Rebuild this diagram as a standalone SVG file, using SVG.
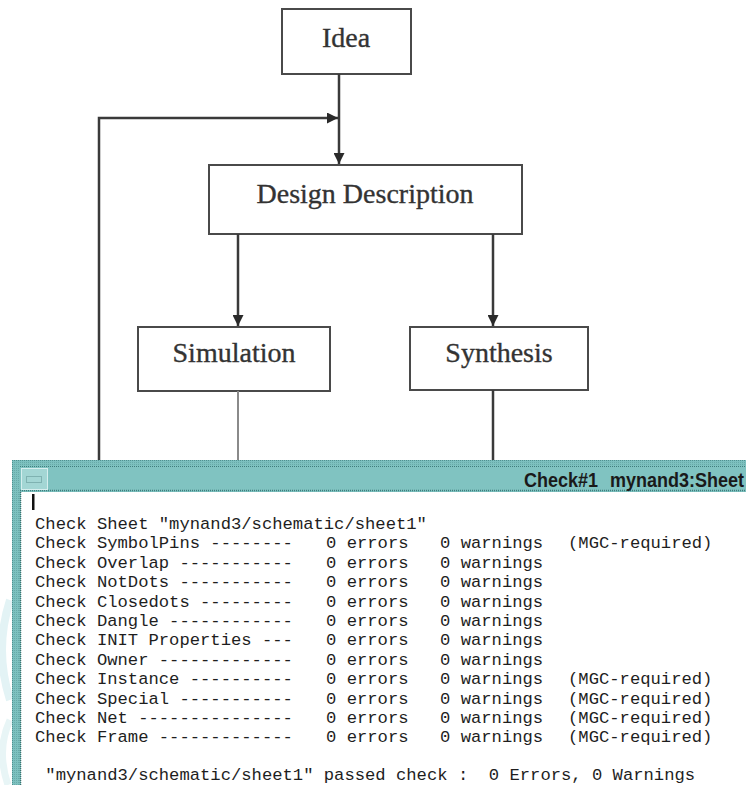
<svg xmlns="http://www.w3.org/2000/svg" width="746" height="785" viewBox="0 0 746 785">
  <style>
    .box { fill: #ffffff; stroke: #4a4a4a; stroke-width: 2; }
    .lbl { font-family: "Liberation Serif", "DejaVu Serif", serif; font-size: 28px; fill: #333333; stroke: #333333; stroke-width: 0.35; text-anchor: middle; }
    .wire { fill: none; stroke: #3a3a3a; stroke-width: 2.5; }
    .wire-lt { fill: none; stroke: #8a8a8a; stroke-width: 2; }
    .mono { font-family: "Liberation Mono", "DejaVu Sans Mono", monospace; font-size: 17.2px; fill: #1e1e1e; white-space: pre; }
    .title { font-family: "Liberation Sans", "Arial", sans-serif; font-weight: bold; font-size: 20px; fill: #1a1a1a; }
  </style>
  <defs>
    <marker id="arrow" viewBox="0 0 10 10" refX="10" refY="5" markerWidth="4.4" markerHeight="4.4" orient="auto" markerUnits="strokeWidth">
      <path d="M0,0 L10,5 L0,10 z" fill="#2a2a2a"/>
    </marker>
    <pattern id="dots" width="2" height="2" patternUnits="userSpaceOnUse">
      <rect width="2" height="2" fill="#7cc0bf"/>
      <rect width="1" height="1" fill="#4e8f8e"/>
    </pattern>
  </defs>

  <rect width="746" height="785" fill="#ffffff"/>

  <!-- flow chart nodes -->
  <g id="idea">
    <rect class="box" x="282" y="9" width="129" height="65"/>
    <text class="lbl" x="346" y="47">Idea</text>
  </g>
  <g id="design-description">
    <rect class="box" x="209" y="165" width="313" height="69"/>
    <text class="lbl" x="365" y="203">Design Description</text>
  </g>
  <g id="simulation">
    <rect class="box" x="138" y="327" width="192" height="64"/>
    <text class="lbl" x="234" y="362">Simulation</text>
  </g>
  <g id="synthesis">
    <rect class="box" x="410" y="327" width="178" height="63"/>
    <text class="lbl" x="499" y="362">Synthesis</text>
  </g>

  <!-- connectors -->
  <g id="connectors">
    <line class="wire" x1="339" y1="74" x2="339" y2="164" marker-end="url(#arrow)"/>
    <polyline class="wire" points="99,462 99,118 338,118" marker-end="url(#arrow)"/>
    <line class="wire" x1="238" y1="234" x2="238" y2="326" marker-end="url(#arrow)"/>
    <line class="wire" x1="493" y1="234" x2="493" y2="326" marker-end="url(#arrow)"/>
    <line class="wire-lt" x1="238" y1="391" x2="238" y2="462"/>
    <line class="wire" x1="493" y1="390" x2="493" y2="462"/>
  </g>

  <!-- faint backdrop arcs along the left margin -->
  <path d="M10,600 Q-6,650 10,700" fill="none" stroke="#e3f3f5" stroke-width="8"/>
  <path d="M10,720 Q-4,750 8,785" fill="none" stroke="#e8f5f6" stroke-width="7"/>

  <!-- checker window -->
  <g id="check-window">
    <rect x="12" y="460" width="740" height="330" fill="url(#dots)"/>
    <rect x="14" y="462" width="740" height="330" fill="#7dc1c0" opacity="0.55"/>
    <!-- title bar -->
    <rect x="20" y="466" width="730" height="25" fill="#80c3c1"/>
    <line x1="20" y1="466.5" x2="750" y2="466.5" stroke="#3f7d7c" stroke-width="1" stroke-dasharray="1 1"/>
    <line x1="20" y1="490.5" x2="750" y2="490.5" stroke="#3f7d7c" stroke-width="1.5" stroke-dasharray="1 1"/>
    <rect x="21.5" y="468.5" width="26" height="21" fill="#a3d6d4" stroke="#d6eeee" stroke-width="1"/>
    <rect x="26.5" y="476.5" width="15" height="6" fill="none" stroke="#5a8f8f" stroke-width="1" stroke-dasharray="1 1"/>
    <text class="title" x="524" y="487" transform="translate(52.4,0) scale(0.9,1)">Check#1</text>
    <text class="title" x="610" y="487" transform="translate(61,0) scale(0.9,1)">mynand3:Sheet</text>
    <!-- content area -->
    <rect x="21" y="492" width="730" height="300" fill="#ffffff"/>
    <line x1="20.5" y1="492" x2="20.5" y2="785" stroke="#3f6f6e" stroke-width="1.5" stroke-dasharray="1 1"/>
    <rect x="32" y="494" width="2.5" height="16" fill="#111111"/>

    <text class="mono" x="35" y="529">Check Sheet "mynand3/schematic/sheet1"</text>
    <text class="mono" y="548.4"><tspan x="35">Check SymbolPins --------</tspan><tspan x="326">0 errors</tspan><tspan x="440">0 warnings</tspan><tspan x="568">(MGC-required)</tspan></text>
    <text class="mono" y="567.8"><tspan x="35">Check Overlap -----------</tspan><tspan x="326">0 errors</tspan><tspan x="440">0 warnings</tspan></text>
    <text class="mono" y="587.2"><tspan x="35">Check NotDots -----------</tspan><tspan x="326">0 errors</tspan><tspan x="440">0 warnings</tspan></text>
    <text class="mono" y="606.6"><tspan x="35">Check Closedots ---------</tspan><tspan x="326">0 errors</tspan><tspan x="440">0 warnings</tspan></text>
    <text class="mono" y="626"><tspan x="35">Check Dangle ------------</tspan><tspan x="326">0 errors</tspan><tspan x="440">0 warnings</tspan></text>
    <text class="mono" y="645.4"><tspan x="35">Check INIT Properties ---</tspan><tspan x="326">0 errors</tspan><tspan x="440">0 warnings</tspan></text>
    <text class="mono" y="664.8"><tspan x="35">Check Owner -------------</tspan><tspan x="326">0 errors</tspan><tspan x="440">0 warnings</tspan></text>
    <text class="mono" y="684.2"><tspan x="35">Check Instance ----------</tspan><tspan x="326">0 errors</tspan><tspan x="440">0 warnings</tspan><tspan x="568">(MGC-required)</tspan></text>
    <text class="mono" y="703.6"><tspan x="35">Check Special -----------</tspan><tspan x="326">0 errors</tspan><tspan x="440">0 warnings</tspan><tspan x="568">(MGC-required)</tspan></text>
    <text class="mono" y="723"><tspan x="35">Check Net ---------------</tspan><tspan x="326">0 errors</tspan><tspan x="440">0 warnings</tspan><tspan x="568">(MGC-required)</tspan></text>
    <text class="mono" y="742.4"><tspan x="35">Check Frame -------------</tspan><tspan x="326">0 errors</tspan><tspan x="440">0 warnings</tspan><tspan x="568">(MGC-required)</tspan></text>
    <text class="mono" x="35" y="780"> "mynand3/schematic/sheet1" passed check :  0 Errors, 0 Warnings</text>
  </g>
</svg>
